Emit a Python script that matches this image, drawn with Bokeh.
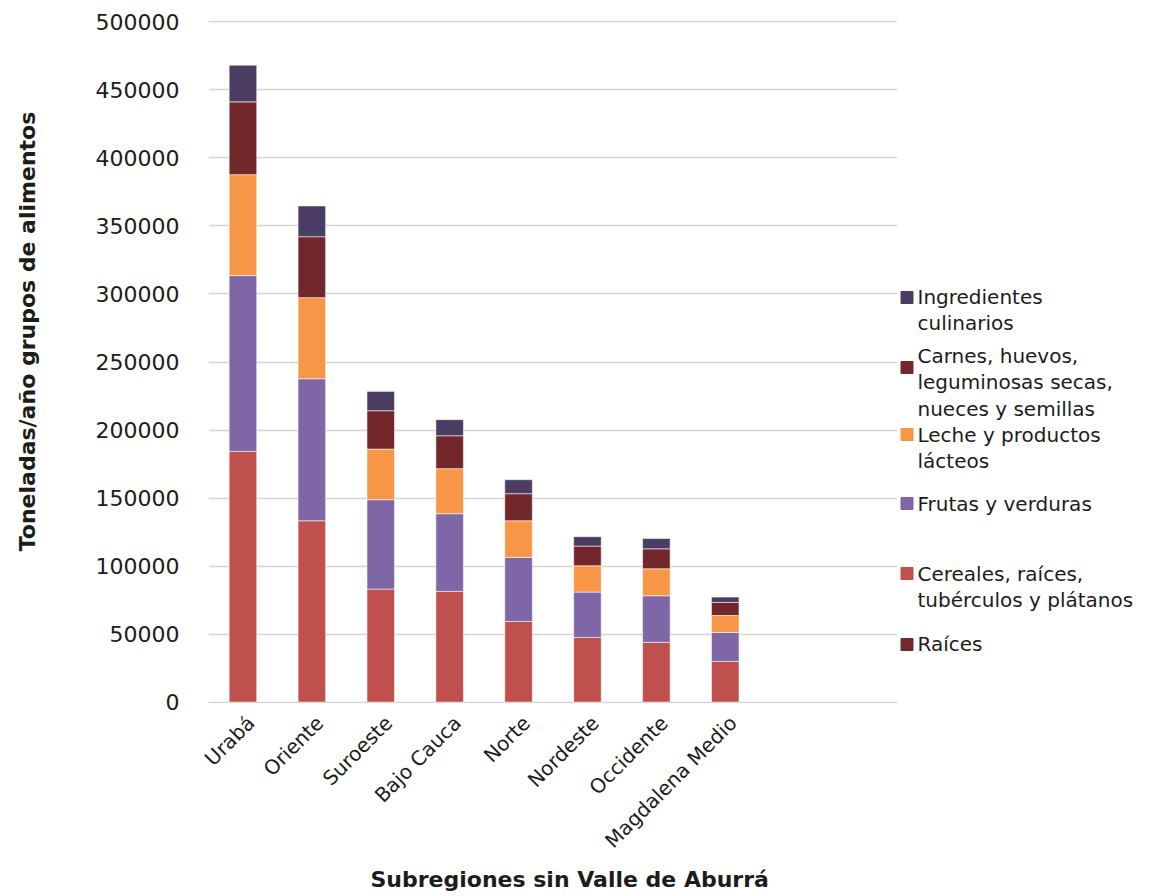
from math import pi

from bokeh.core.properties import value
from bokeh.embed import file_html
from bokeh.layouts import row
from bokeh.models import (ColumnDataSource, FixedTicker, LinearAxis, NumeralTickFormatter,
                          Range1d, SingleIntervalTicker, Title)
from bokeh.plotting import figure
from bokeh.resources import INLINE

# ---- data: tonnes per year by food group and subregion ----
regions = ["Urabá", "Oriente", "Suroeste", "Bajo Cauca", "Norte",
           "Nordeste", "Occidente", "Magdalena Medio"]
n_slots = 10      # the category axis leaves room for two more subregions

raices = [0, 0, 0, 0, 0, 0, 0, 0]
cereales = [184300, 133300, 83100, 81400, 59300, 47600, 43900, 29900]
frutas = [129200, 104400, 65700, 57100, 47100, 33300, 34300, 21300]
leche = [74200, 59600, 37200, 33100, 26900, 19300, 19800, 12500]
carnes = [53500, 44800, 28200, 24200, 19900, 14500, 14700, 9600]
ingredientes = [27000, 22600, 14200, 11800, 10300, 6900, 7600, 3900]

series_keys = ["raices", "cereales", "frutas", "leche", "carnes", "ingredientes"]
series_labels = ["Raíces",
                 "Cereales, raíces,\ntubérculos y plátanos",
                 "Frutas y verduras",
                 "Leche y productos\nlácteos",
                 "Carnes, huevos,\nleguminosas secas,\nnueces y semillas",
                 "Ingredientes\nculinarios"]
series_colors = ["#742a2b", "#c0504d", "#7f66a6", "#f79646", "#72282a", "#4a3c62"]

y_ticks = [0, 50000, 100000, 150000, 200000, 250000, 300000, 350000, 400000, 450000, 500000]

x_title = "Subregiones sin Valle de Aburrá"
y_title = "Toneladas/año grupos de alimentos"

# ---- styling ----
FONT = "DejaVu Sans"
TEXT = "#1c1c1c"
GRID = "#d4d4d4"

CANVAS_H = 896
FRAME_TOP, FRAME_BOTTOM = 20, 703      # shared vertical frame span (page pixels)
TITLE_W = 50                           # strip holding the vertical axis title
MAIN_W = 897 - TITLE_W
LEGEND_W = 252
Y_PAD = 1000                           # keeps the 0 / 500000 gridlines inside the frame
LABEL_SHIFT = 0.115                    # category labels sit a little right of the bar centre


def panel(width):
    """A blank strip whose data units equal page pixels (y measured top-down)."""
    f = figure(width=width, height=CANVAS_H, x_range=Range1d(0, width),
               y_range=Range1d(FRAME_BOTTOM, FRAME_TOP),
               output_backend="svg", toolbar_location=None,
               x_axis_type=None, y_axis_type=None,
               min_border=0, min_border_left=0, min_border_right=0,
               min_border_top=FRAME_TOP, min_border_bottom=CANVAS_H - FRAME_BOTTOM)
    f.outline_line_color = None
    f.xgrid.grid_line_color = None
    f.ygrid.grid_line_color = None
    f.background_fill_color = "white"
    f.border_fill_color = "white"
    return f


# ---- main chart ----
slot = list(range(len(regions)))
source = ColumnDataSource(dict(slot=slot, region=regions, raices=raices,
                               cereales=cereales, frutas=frutas, leche=leche,
                               carnes=carnes, ingredientes=ingredientes))

p = figure(x_range=Range1d(-0.5, n_slots - 0.5),
           y_range=Range1d(y_ticks[0] - Y_PAD, y_ticks[-1] + Y_PAD),
           x_axis_location=None,
           width=MAIN_W, height=CANVAS_H, output_backend="svg", toolbar_location=None,
           min_border_left=208 - TITLE_W, min_border_right=0,
           min_border_top=FRAME_TOP, min_border_bottom=CANVAS_H - FRAME_BOTTOM)
p.outline_line_color = None
p.background_fill_color = "white"
p.border_fill_color = "white"

p.vbar_stack(series_keys, x="slot", width=0.4, source=source,
             color=series_colors, line_color="white", line_alpha=0.55,
             line_width=1)

# y axis
p.yaxis.ticker = SingleIntervalTicker(interval=50000)
p.yaxis.formatter = NumeralTickFormatter(format="0")
p.yaxis.axis_line_color = None
p.yaxis.major_tick_line_color = None
p.yaxis.minor_tick_line_color = None
p.yaxis.major_tick_out = 0
p.yaxis.major_label_standoff = 25
p.yaxis.major_label_text_font = FONT
p.yaxis.major_label_text_font_size = "22px"
p.yaxis.major_label_text_color = TEXT

# category labels on a copy of the slot scale, nudged right of the bar centres
p.extra_x_ranges = {"labels": Range1d(-0.5 - LABEL_SHIFT, n_slots - 0.5 - LABEL_SHIFT)}
xaxis = LinearAxis(x_range_name="labels",
                   ticker=FixedTicker(ticks=slot),
                   major_label_overrides={i: name for i, name in zip(slot, regions)})
xaxis.axis_line_color = None
xaxis.major_tick_line_color = None
xaxis.minor_tick_line_color = None
xaxis.major_tick_out = 0
xaxis.major_label_orientation = pi / 4
xaxis.major_label_standoff = 16
xaxis.major_label_text_font = FONT
xaxis.major_label_text_font_size = "20px"
xaxis.major_label_text_color = TEXT
p.add_layout(xaxis, "below")

p.xgrid.grid_line_color = None
p.ygrid.grid_line_color = GRID
p.ygrid.grid_line_width = 1.5

# horizontal axis title, below the category labels
p.add_layout(Title(text=x_title, align="left", offset=162, standoff=0,
                   text_font=FONT, text_font_size="22px", text_font_style="bold",
                   text_color=TEXT), "below")

# ---- vertical axis title strip ----
ytitle = panel(TITLE_W)
ytitle.text(x=[27], y=[331], text=[y_title], angle=pi / 2,
            text_font=value(FONT), text_font_size="22px", text_font_style="bold",
            text_color=TEXT, text_align="center", text_baseline="middle")

# ---- legend strip: entries listed top to bottom (reverse of stacking order) ----
leg = panel(LEGEND_W)
swatch_y = [297, 367, 434, 503, 573, 644]
first_line_y = [296, 355, 434, 503, 573, 643]
line_step = 26.5

entries = list(zip(series_labels, series_colors))[::-1]
sw = dict(x=[], y=[], color=[])
tx = dict(x=[], y=[], text=[])
for (label, color), sy, ty in zip(entries, swatch_y, first_line_y):
    sw["x"].append(9.5)
    sw["y"].append(sy)
    sw["color"].append(color)
    for k, line in enumerate(label.split("\n")):
        tx["x"].append(20)
        tx["y"].append(ty + k * line_step)
        tx["text"].append(line)

leg.rect(x="x", y="y", width=12, height=12, color="color", source=ColumnDataSource(sw))
leg.text(x="x", y="y", text="text", source=ColumnDataSource(tx),
         text_font=value(FONT), text_font_size="20px", text_color=TEXT,
         text_baseline="middle", text_align="left")

layout = row(ytitle, p, leg, spacing=0)

open("out.html", "w").write(file_html(layout, INLINE))
